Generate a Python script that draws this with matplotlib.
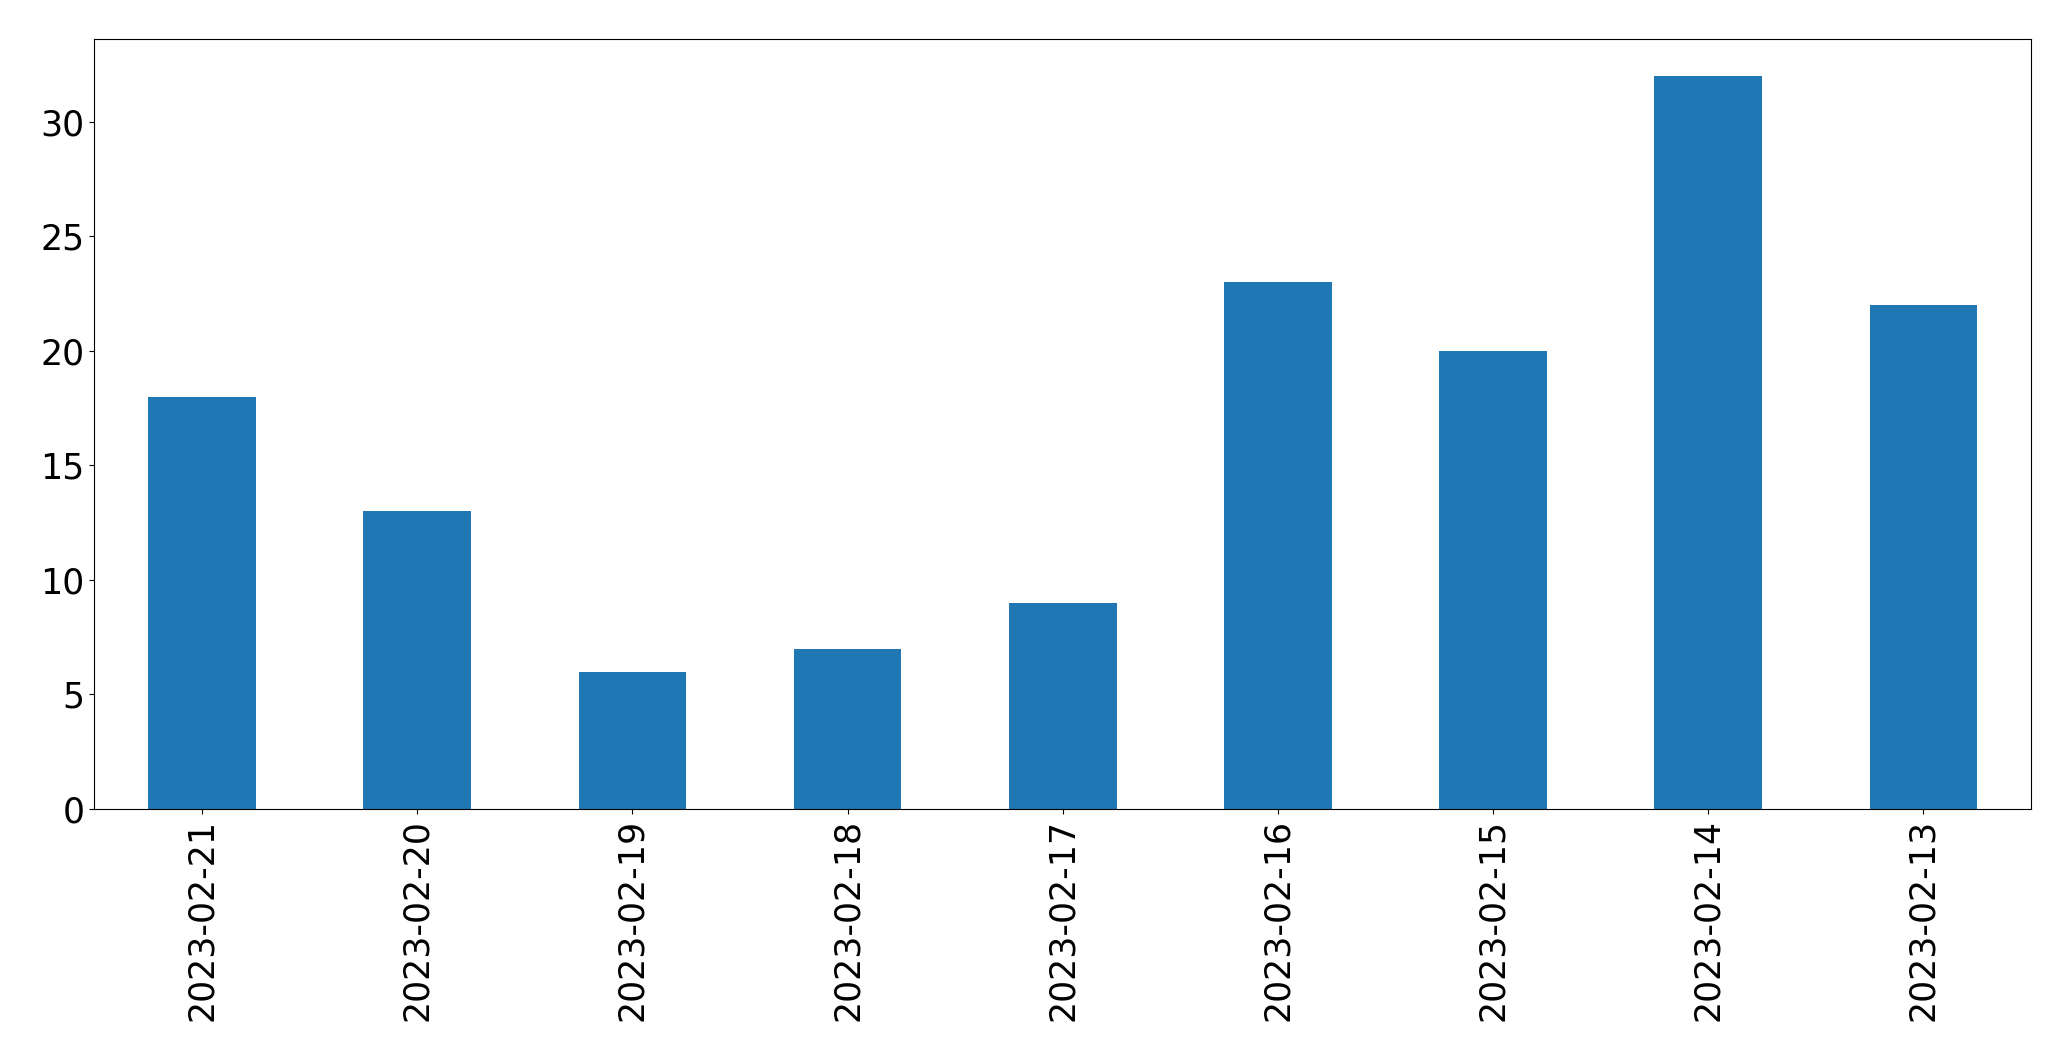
import matplotlib
matplotlib.use('Agg')
from matplotlib import pyplot as plt
import pandas as pd

dates = ['2023-02-21', '2023-02-20', '2023-02-19', '2023-02-18', '2023-02-17',
         '2023-02-16', '2023-02-15', '2023-02-14', '2023-02-13']
counts = [18, 13, 6, 7, 9, 23, 20, 32, 22]

fig = plt.figure(figsize=(20.71, 10.61), dpi=100)
ax = fig.add_axes([0.0456, 0.2375, 0.9351, 0.7253])

s = pd.Series(counts, index=dates)
s.plot(kind='bar', ax=ax, color='#1f77b4')

ax.tick_params(axis='both', labelsize=25)
ax.set_xlabel('')

fig.savefig('out.png', dpi=100)
